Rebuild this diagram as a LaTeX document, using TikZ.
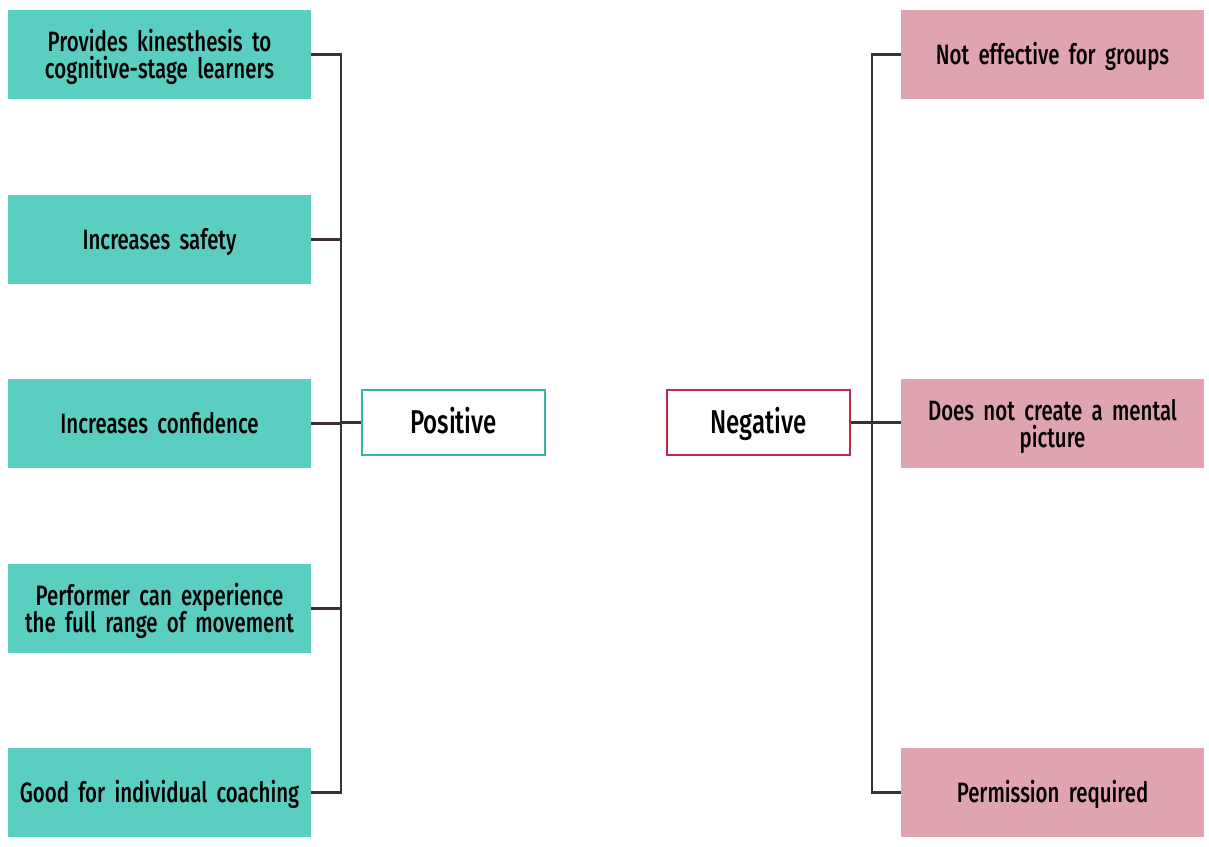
\documentclass[tikz,border=0pt]{standalone}
\usepackage{fontspec}
\setmainfont{Fira Sans}[UprightFont=* Medium,FakeStretch=0.73,WordSpace=0.75]
\begin{document}
\begin{tikzpicture}[x=1pt,y=-1pt,
  posfill/.style={fill={rgb,255:red,90;green,206;blue,192}},
  negfill/.style={fill={rgb,255:red,224;green,163;blue,176}},
  item/.style={draw=none,minimum width=303pt,minimum height=89pt,inner sep=0pt,
    align=center,font=\fontsize{28}{27.7}\selectfont,text width=300pt,
    text height=54.5pt,text depth=34.5pt},
  twoline/.style={text height=41pt,text depth=48pt},
  head/.style={fill=white,line width=1.8pt,minimum width=183pt,minimum height=65pt,
    inner sep=0pt,text height=43pt,text depth=22pt,font=\fontsize{33}{36}\selectfont},
  link/.style={draw={rgb,255:red,61;green,47;blue,51},line width=2.3pt}]
\useasboundingbox (0,0) rectangle (1209,846);
% left column: advantages
\node[item,posfill,twoline] (p1) at (159.5,54.5) {Provides kinesthesis to\\cognitive-stage learners};
\node[item,posfill] (p2) at (159.5,239.5) {Increases safety};
\node[item,posfill] (p3) at (159.5,423.5) {Increases confidence};
\node[item,posfill,twoline] (p4) at (159.5,608.5) {Performer can experience\\the full range of movement};
\node[item,posfill] (p5) at (159.5,792.5) {Good for individual coaching};
\node[head,draw={rgb,255:red,58;green,181;blue,165}] (pos) at (453.5,422.5) {Positive};
% right column: disadvantages
\node[item,negfill] (n1) at (1052.5,54.5) {Not effective for groups};
\node[item,negfill,twoline] (n2) at (1052.5,423.5) {Does not create a mental\\picture};
\node[item,negfill] (n3) at (1052.5,792.5) {Permission required};
\node[head,draw={rgb,255:red,192;green,41;blue,74}] (neg) at (758.5,422.5) {Negative};
% brackets
\coordinate (lb) at (341,0);
\coordinate (rb) at (872,0);
\draw[link] (p1.east) -| (lb |- p5.east) -- (p5.east);
\foreach \n in {p2,p3,p4} \draw[link] (\n.east) -- (lb |- \n.east);
\draw[link] (lb |- pos.west) -- (pos.west);
\draw[link] (n1.west) -| (rb |- n3.west) -- (n3.west);
\draw[link] (neg.east) -- (neg.east -| n2.west);
\end{tikzpicture}
\end{document}
